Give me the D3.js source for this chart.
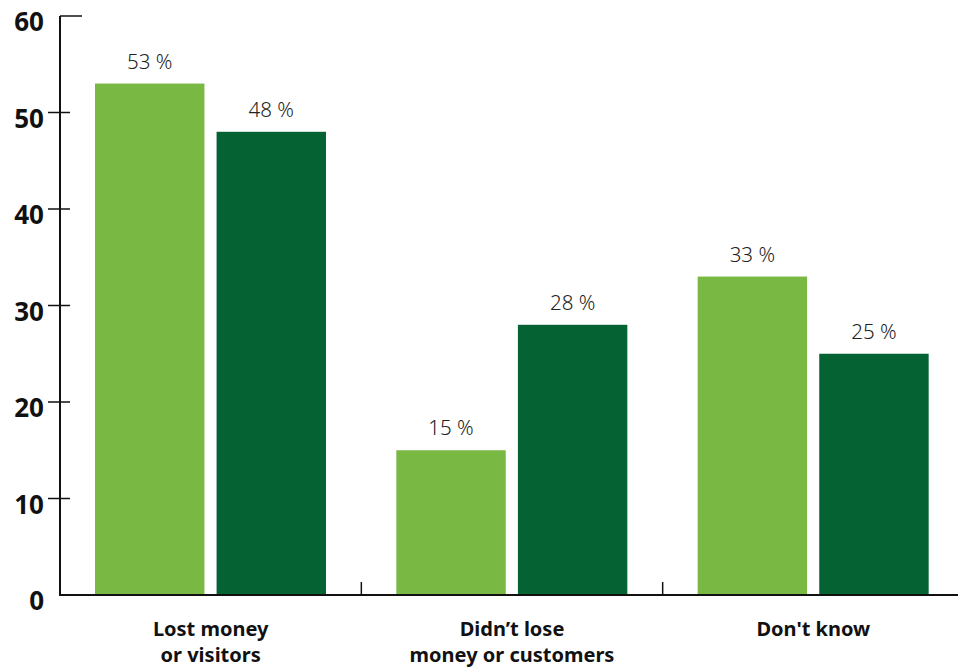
<!DOCTYPE html>
<html>
<head>
<meta charset="utf-8">
<script src="https://cdn.jsdelivr.net/npm/d3@7/dist/d3.min.js"></script>
<style>
  html, body { margin: 0; padding: 0; background: #fff; }
  svg { display: block; }
</style>
</head>
<body>
<svg id="chart" width="958" height="667"></svg>
<script>
// Survey answers, two series per category (percent)
const categories = [
  ["Lost money", "or visitors"],
  ["Didn\u2019t lose", "money or customers"],
  ["Don't know"]
];
const seriesA = [53, 15, 33];
const seriesB = [48, 28, 25];
const yTicks = [0, 10, 20, 30, 40, 50, 60];
const seriesColors = ["#7ab844", "#046233"];

const svg = d3.select("#chart");
const plotLeft = 60, plotRight = 964, plotTop = 16, plotBottom = 595;
const boldFont = "'Noto Sans', 'Open Sans', sans-serif";

const keys = categories.map((c, i) => i);
const x0 = d3.scaleBand().domain(keys).range([plotLeft, plotRight]).padding(0);
const x1 = d3.scaleBand().domain([0, 1]).range([35, 266]).paddingInner(0.1).paddingOuter(0);
const y = d3.scaleLinear().domain([0, 60]).range([plotBottom, plotTop]);

const rows = keys.map(i => ({ i, values: [seriesA[i], seriesB[i]] }));

// Bars
const groups = svg.append("g").selectAll("g")
  .data(rows).join("g")
  .attr("transform", d => `translate(${x0(d.i)},0)`);

groups.selectAll("rect")
  .data(d => d.values.map((v, k) => ({ v, k })))
  .join("rect")
  .attr("x", d => x1(d.k))
  .attr("width", x1.bandwidth())
  .attr("y", d => y(d.v))
  .attr("height", d => y(0) - y(d.v))
  .attr("fill", d => seriesColors[d.k]);

// Value labels
groups.selectAll("text.val")
  .data(d => d.values.map((v, k) => ({ v, k })))
  .join("text")
  .attr("class", "val")
  .attr("x", d => x1(d.k) + x1.bandwidth() / 2)
  .attr("y", d => y(d.v) - 15)
  .attr("text-anchor", "middle")
  .attr("font-family", "'Noto Sans', 'Open Sans', sans-serif")
  .attr("font-weight", 300)
  .attr("font-size", 20.5)
  .attr("fill", "#222")
  .text(d => d.v + " %");

// Y axis
const yAxis = svg.append("g");
yAxis.append("line")
  .attr("x1", plotLeft).attr("x2", plotLeft)
  .attr("y1", y(60)).attr("y2", y(0))
  .attr("stroke", "#111").attr("stroke-width", 2);
yAxis.selectAll("line.tick")
  .data(yTicks.filter(t => t > 0))
  .join("line")
  .attr("class", "tick")
  .attr("x1", d => d === 60 ? plotLeft : plotLeft - 12)
  .attr("x2", d => d === 60 ? plotLeft + 22 : plotLeft + 10)
  .attr("y1", d => y(d)).attr("y2", d => y(d))
  .attr("stroke", "#111").attr("stroke-width", 1.5);
yAxis.selectAll("text")
  .data(yTicks)
  .join("text")
  .attr("x", 44)
  .attr("y", d => y(d) + 15)
  .attr("text-anchor", "end")
  .attr("font-family", boldFont)
  .attr("font-weight", 700)
  .attr("font-size", 26)
  .attr("fill", "#111")
  .text(d => d);

// X axis baseline and category separators
const xAxis = svg.append("g");
xAxis.append("line")
  .attr("x1", plotLeft - 1).attr("x2", 958)
  .attr("y1", plotBottom).attr("y2", plotBottom)
  .attr("stroke", "#111").attr("stroke-width", 2);
xAxis.selectAll("line.sep")
  .data(keys.slice(1))
  .join("line")
  .attr("class", "sep")
  .attr("x1", d => x0(d)).attr("x2", d => x0(d))
  .attr("y1", plotBottom - 13).attr("y2", plotBottom)
  .attr("stroke", "#111").attr("stroke-width", 1.5);

// Category labels
const catText = xAxis.selectAll("text")
  .data(keys)
  .join("text")
  .attr("x", d => x0(d) + x0.bandwidth() / 2)
  .attr("y", 636)
  .attr("text-anchor", "middle")
  .attr("font-family", boldFont)
  .attr("font-weight", 700)
  .attr("font-size", 20)
  .attr("fill", "#111");
catText.selectAll("tspan")
  .data(d => categories[d])
  .join("tspan")
  .attr("x", function () { return this.parentNode.getAttribute("x"); })
  .attr("dy", (d, j) => j === 0 ? 0 : 26)
  .text(d => d);
</script>
</body>
</html>
